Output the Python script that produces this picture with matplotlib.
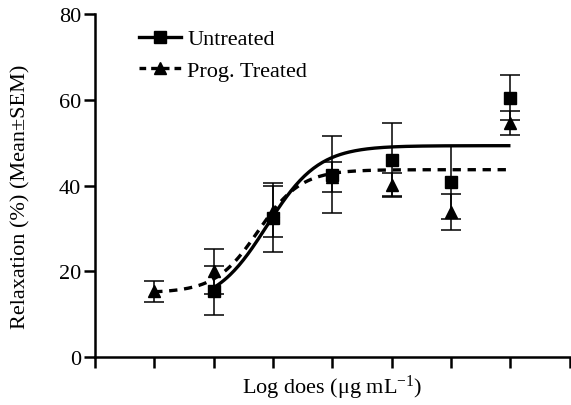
import matplotlib.pyplot as plt
import numpy as np

plt.rcParams["font.family"] = ["Liberation Serif", "DejaVu Serif"]

# dose positions on the log axis (axis ticks 0..8)
dose_untreated = [2, 3, 4, 5, 6, 7]
mean_untreated = [15.5, 32.5, 42.5, 46.0, 40.8, 60.5]
sem_untreated = [5.8, 8.0, 9.0, 8.7, 8.5, 5.2]

dose_treated = [1, 2, 3, 4, 5, 6, 7]
mean_treated = [15.3, 20.0, 34.0, 42.0, 40.2, 33.8, 54.5]
sem_treated = [2.5, 5.2, 6.0, 3.5, 2.7, 4.2, 2.8]

# four-parameter logistic fits (bottom, top, logEC50, hill)
fit_untreated = (12.0, 49.3, 2.9, 1.0)
fit_treated = (15.0, 43.7, 2.75, 1.2)

x_ticks = [0, 1, 2, 3, 4, 5, 6, 7, 8]
y_ticks = [0, 20, 40, 60, 80]


def logistic(x, bottom, top, logec50, hill):
    return bottom + (top - bottom) / (1 + 10 ** ((logec50 - x) * hill))


fig = plt.figure(figsize=(5.71, 4.06), dpi=100)
ax = fig.add_axes([0.166, 0.118, 0.832, 0.845])

xs_u = np.linspace(dose_untreated[0], dose_untreated[-1], 200)
xs_t = np.linspace(dose_treated[0], dose_treated[-1], 200)
ax.plot(xs_u, logistic(xs_u, *fit_untreated), color="black", lw=2.4,
        solid_capstyle="butt")
ax.plot(xs_t, logistic(xs_t, *fit_treated), color="black", lw=2.4,
        linestyle=(0, (2.5, 2.0)))

ax.errorbar(dose_untreated, mean_untreated, yerr=sem_untreated, fmt="s",
            color="black", ms=8, capsize=7, elinewidth=1.1, capthick=1.1)
ax.errorbar(dose_treated, mean_treated, yerr=sem_treated, fmt="^",
            color="black", ms=8, capsize=7, elinewidth=1.1, capthick=1.1)

# legend handles: line with marker in the middle
h1, = ax.plot([], [], color="black", lw=2.4, marker="s", ms=8)
h2, = ax.plot([], [], color="black", lw=2.4, marker="^", ms=8,
              linestyle=(0, (2.0, 1.5)))
ax.legend([h1, h2], ["Untreated", "Prog. Treated"], loc="upper left",
          bbox_to_anchor=(0.05, 1.015), frameon=False, fontsize=16,
          handlelength=1.9, handletextpad=0.3, labelspacing=0.5,
          markerscale=1.0)

ax.set_xlim(0, 8)
ax.set_ylim(0, 80)
ax.set_xticks(x_ticks)
ax.set_xticklabels([])
ax.set_yticks(y_ticks)
ax.tick_params(axis="both", width=1.8, length=8, labelsize=16, pad=2)
for side in ["top", "right"]:
    ax.spines[side].set_visible(False)
for side in ["left", "bottom"]:
    ax.spines[side].set_linewidth(1.8)

ax.set_xlabel("Log does (μg mL$\\mathregular{^{-1}}$)", fontsize=16, labelpad=1)
ax.set_ylabel("Relaxation (%) (Mean±SEM)", fontsize=16, labelpad=18)
ax.yaxis.set_label_coords(-0.135, 0.47)

fig.savefig("out.png", dpi=100)
